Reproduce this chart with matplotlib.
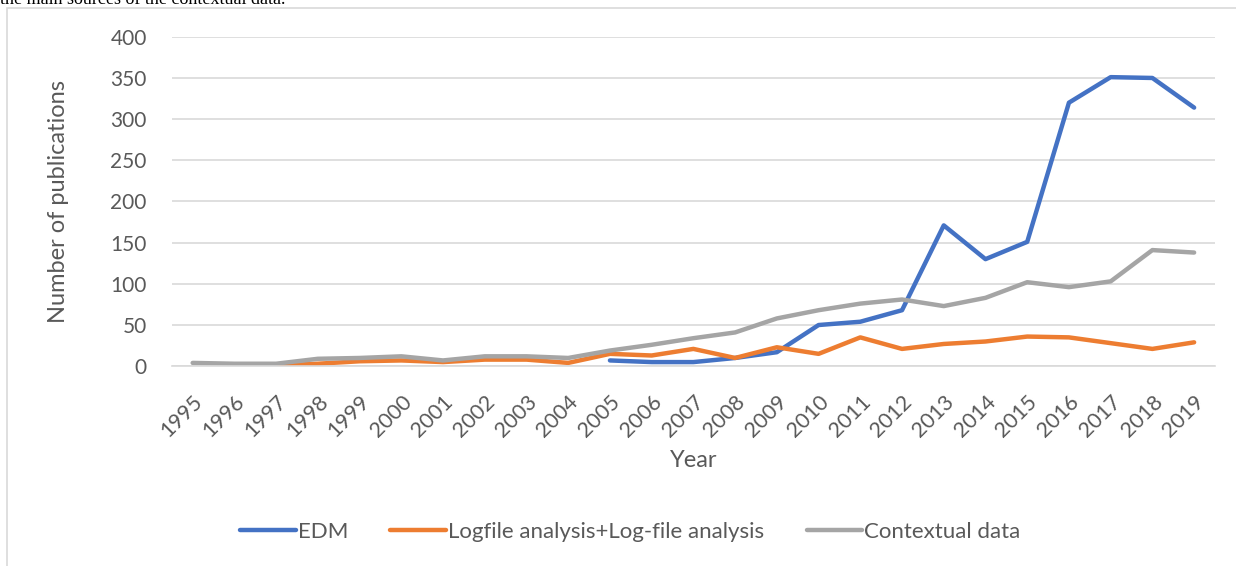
import matplotlib
matplotlib.use("Agg")
import matplotlib.pyplot as plt
import numpy as np
from matplotlib.patches import Rectangle

years = list(range(1995, 2020))
year_labels = [str(y) for y in years]

# None where a series has no value yet
edm = [None] * 10 + [7, 5, 5, 10, 17, 50, 54, 68, 171, 130, 151, 320, 351, 350, 314]
logfile = [None, None, 1, 3, 6, 7, 5, 8, 8, 4, 15, 13, 21, 10, 23, 15, 35, 21, 27, 30, 36, 35, 28, 21, 29]
contextual = [4, 3, 3, 9, 10, 12, 7, 12, 12, 10, 19, 26, 34, 41, 58, 68, 76, 81, 73, 83, 102, 96, 103, 141, 138]

series_names = ["EDM", "Logfile analysis+Log-file analysis", "Contextual data"]
colors = ["#4472C4", "#ED7D31", "#A5A5A5"]

plt.rcParams['font.family'] = ['Lato', 'DejaVu Sans']
txt = "#595959"

fig = plt.figure(figsize=(12.36, 5.66), dpi=100)
ax = fig.add_axes([0.139, 0.353, 0.844, 0.582])

x = np.arange(len(years))
for vals, name, c in zip([edm, logfile, contextual], series_names, colors):
    y = np.array([np.nan if v is None else v for v in vals], dtype=float)
    ax.plot(x, y, color=c, lw=3.2, label=name, solid_capstyle='round', solid_joinstyle='round')

ax.set_xlim(-0.5, len(years) - 0.5)
ax.set_ylim(0, 400)
ax.set_yticks(range(0, 401, 50))
ax.set_xticks(x)
ax.set_xticklabels(year_labels, rotation=45, ha='right', rotation_mode='anchor')
ax.grid(axis='y', color='#D9D9D9', lw=1.2)
ax.set_axisbelow(True)
for s in ['top', 'right', 'left']:
    ax.spines[s].set_visible(False)
ax.spines['bottom'].set_color('#D9D9D9')
ax.spines['bottom'].set_linewidth(1.2)
ax.tick_params(axis='y', length=0, labelsize=15, colors=txt, pad=18)
ax.tick_params(axis='x', length=0, labelsize=15.5, colors=txt, pad=18)
ax.set_xlabel("Year", fontsize=17, color=txt)
ax.set_ylabel("Number of publications", fontsize=17, color=txt)
ax.xaxis.set_label_coords(0.5, -0.255)
ax.yaxis.set_label_coords(-0.099, 0.5)

leg = fig.legend(loc='center', bbox_to_anchor=(0.51, 0.06), ncol=3, frameon=False,
                 fontsize=16, handlelength=2.5, handletextpad=0.1, columnspacing=1.9)
for t in leg.get_texts():
    t.set_color(txt)

# outer chart frame and the cut-off caption line above it
fig.patches.append(Rectangle((7 / 1236, -0.01), 1.05, 1 - 8 / 566 + 0.01, transform=fig.transFigure,
                             fill=False, edgecolor='#D9D9D9', lw=1.2))
fig.text(0.0, 1.0, "the main sources of the contextual data.", family='Liberation Serif',
         fontsize=13, color='black', ha='left', va='center')

fig.savefig("out.png", dpi=100)
